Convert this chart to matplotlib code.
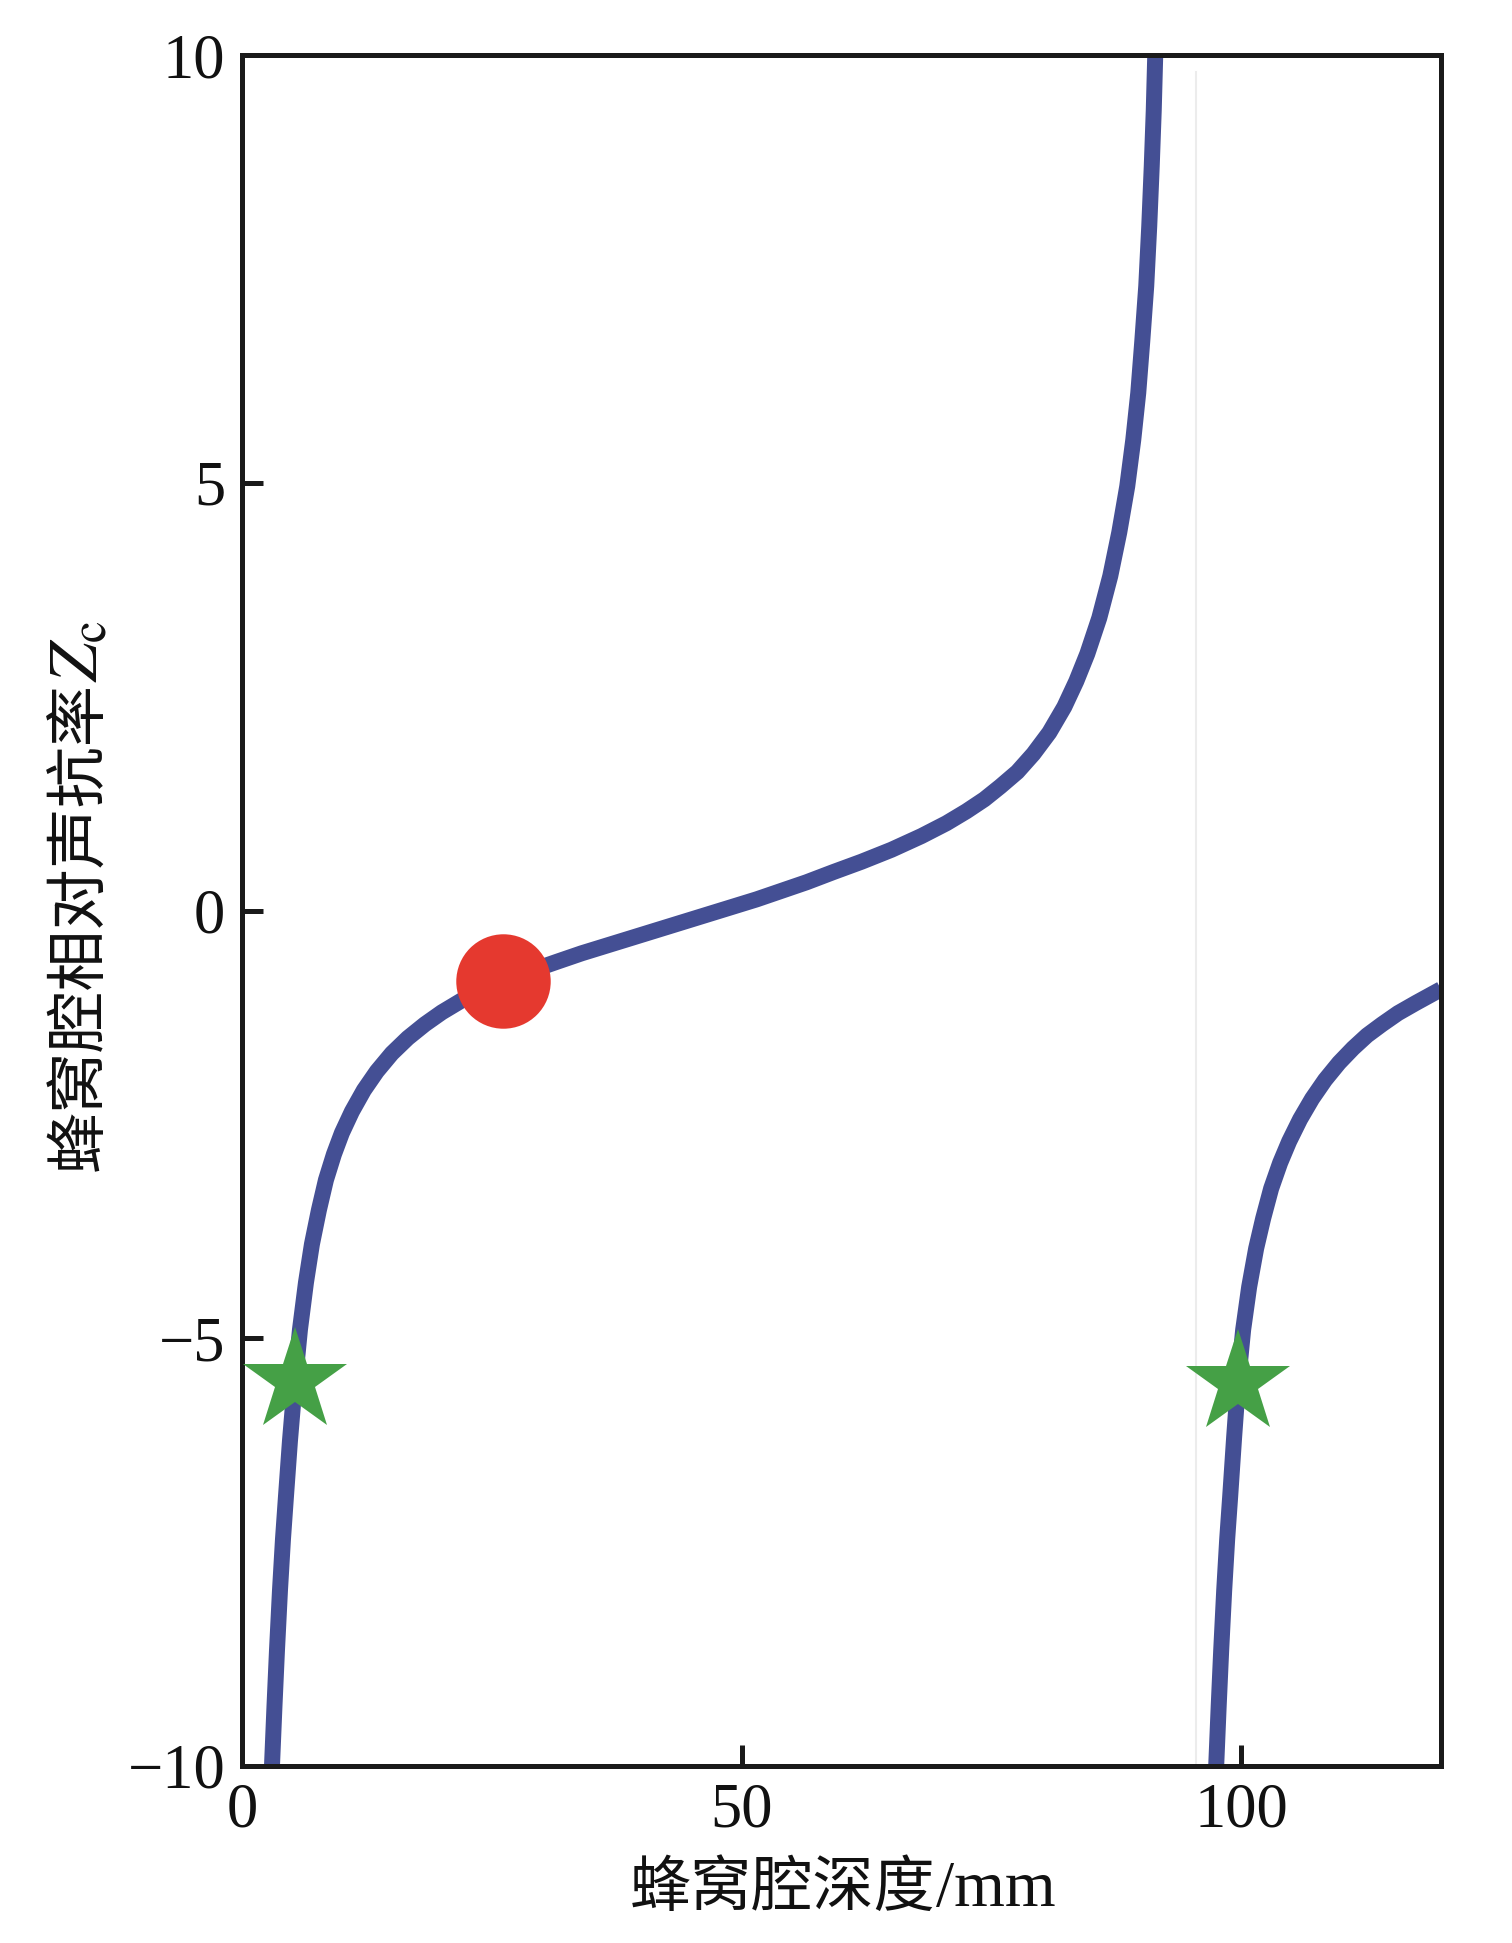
import matplotlib
matplotlib.use("Agg")
import matplotlib.pyplot as plt

# ---- data ----
# branch 1 (depth in mm, relative acoustic reactance)
d1 = [3.0, 3.25, 3.5, 3.8, 4.1, 4.4, 4.8, 5.3, 5.8, 6.4, 7.0, 7.7, 8.4, 9.2,
      10.0, 11.0, 12.2, 13.5, 15.0, 16.6, 18.3, 20.0, 22.0, 24.0, 26.1, 28.8,
      31.5, 34.0, 36.5, 39.0, 41.5, 44.0, 46.5, 49.0, 51.5, 54.0, 56.5, 59.2,
      62.0, 65.0, 68.0, 70.5, 72.5, 74.3, 75.9, 77.6, 79.2, 80.8, 82.3, 83.5,
      84.6, 85.8, 86.9, 87.8, 88.6, 89.2, 89.7, 90.1, 90.5, 90.8, 91.05, 91.25,
      91.4]
z1 = [-10.0, -9.3, -8.65, -7.95, -7.35, -6.85, -6.2, -5.5, -4.9, -4.35, -3.9,
      -3.5, -3.15, -2.85, -2.6, -2.35, -2.10, -1.88, -1.67, -1.49, -1.33, -1.19,
      -1.05, -0.94, -0.83, -0.71, -0.60, -0.50, -0.41, -0.32, -0.23, -0.14,
      -0.05, 0.04, 0.13, 0.23, 0.33, 0.45, 0.57, 0.71, 0.87, 1.02, 1.16, 1.30,
      1.45, 1.62, 1.83, 2.08, 2.38, 2.68, 3.0, 3.42, 3.91, 4.42, 4.96, 5.5,
      6.05, 6.65, 7.3, 8.0, 8.7, 9.35, 10.0]

# branch 2
d2 = [97.5, 97.75, 98.0, 98.3, 98.6, 98.9, 99.3, 99.7, 100.2, 100.8, 101.5,
      102.2, 103.0, 103.9, 104.8, 105.9, 107.1, 108.4, 109.8, 111.2, 112.6,
      114.1, 115.7, 117.5, 120.0]
z2 = [-10.0, -9.3, -8.65, -7.95, -7.35, -6.85, -6.15, -5.5, -4.9, -4.4, -3.95,
      -3.6, -3.25, -2.95, -2.7, -2.44, -2.2, -1.98, -1.78, -1.61, -1.46, -1.33,
      -1.2, -1.08, -0.92]

# highlighted points
dot_d, dot_z = [26.1], [-0.82]
star_d = [5.3, 99.7]
star_z = [-5.5, -5.52]

# faint vertical artefact line
asym_d = 95.5

x_ticks = [0, 50, 100]
y_ticks = [-10, -5, 0, 5, 10]
x_tick_labels = ["0", "50", "100"]
y_tick_labels = ["\u221210", "\u22125", "0", "5", "10"]

xlabel_cjk, xlabel_unit = "蜂窝腔深度", "/mm"
ylabel_cjk, ylabel_sym = "蜂窝腔相对声抗率", r"$Z_{\rm c}$"

# ---- styling ----
plt.rcParams['font.family'] = ['Liberation Serif', 'Noto Sans CJK SC', 'DejaVu Sans']
plt.rcParams['mathtext.fontset'] = 'stix'

W, H = 1512, 1943
fig = plt.figure(figsize=(W / 100, H / 100), dpi=100)
ax = fig.add_axes([242 / W, 1 - 1766 / H, (1441 - 242) / W, (1766 - 55) / H])

curve_color = '#444f94'
ax.axvline(asym_d, ymin=0.0, ymax=0.99, color='#ececec', lw=1.5, zorder=1)
for dd, zz in ((d1, z1), (d2, z2)):
    ax.plot(dd, zz, color=curve_color, lw=11.5, solid_capstyle='butt',
            solid_joinstyle='round', zorder=2)
ax.plot(dot_d, dot_z, 'o', color='#e5392f', markersize=68, markeredgewidth=0,
        zorder=3)
ax.plot(star_d, star_z, '*', color='#45a046', markersize=78, markeredgewidth=0,
        zorder=3, clip_on=False)

ax.set_xlim(0, 120)
ax.set_ylim(-10, 10)
ax.set_xticks(x_ticks)
ax.set_xticklabels(x_tick_labels)
ax.set_yticks(y_ticks)
ax.set_yticklabels(y_tick_labels)

for s in ax.spines.values():
    s.set_linewidth(3.6)
    s.set_color('#1a1a1a')

ax.tick_params(axis='both', direction='in', length=15, width=3.6,
               colors='#1a1a1a', labelsize=45, pad=12,
               top=False, right=False)
for lab in ax.get_xticklabels() + ax.get_yticklabels():
    lab.set_color('#111111')

# ---- axis labels built from pieces (CJK + Latin/math) ----
renderer = fig.canvas.get_renderer()

# x label: baseline at y=1906 px, starting at x=630 px
xt1 = fig.text(630 / W, 1 - 1906 / H, xlabel_cjk, fontsize=44, color='#111111',
               ha='left', va='baseline', family=['Noto Sans CJK SC'])
bb = xt1.get_window_extent(renderer)
fig.text(bb.x1 / W, 1 - 1906 / H, xlabel_unit, fontsize=47, color='#111111',
         ha='left', va='baseline', family=['Liberation Serif'])

# y label: rotated, baseline at x=97 px, starting at y=1171 px
yt1 = fig.text(97 / W, 1 - 1171 / H, ylabel_cjk, fontsize=44, color='#111111',
               rotation=90, rotation_mode='anchor', ha='left', va='baseline',
               family=['Noto Sans CJK SC'])
bb = yt1.get_window_extent(renderer)
fig.text(97 / W, bb.y1 / H, ylabel_sym, fontsize=50, color='#111111',
         rotation=90, rotation_mode='anchor', ha='left', va='baseline')

fig.savefig("out.png", dpi=100, facecolor='white')
